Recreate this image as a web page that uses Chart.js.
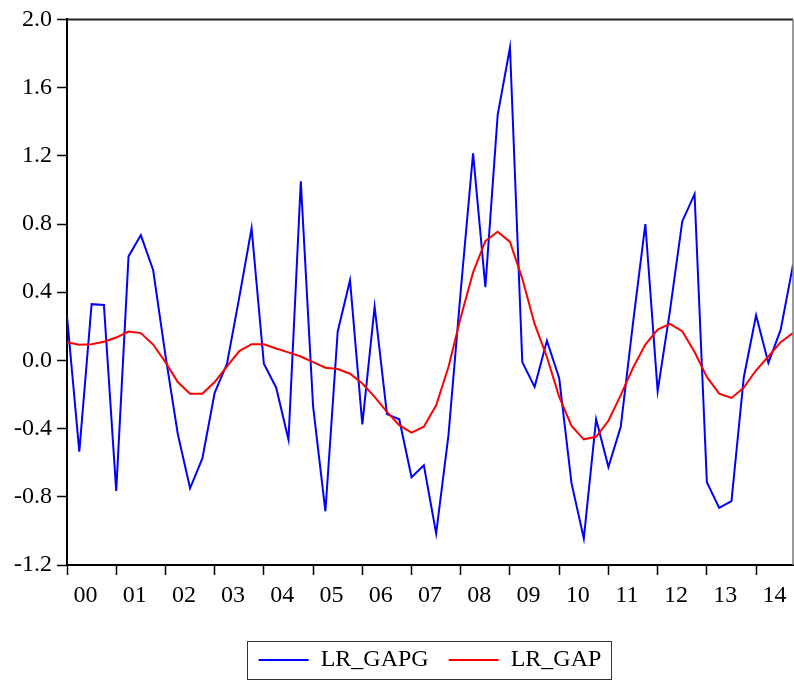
<!DOCTYPE html>
<html>
<head>
<meta charset="utf-8">
<script src="https://cdn.jsdelivr.net/npm/chart.js@4.4.0/dist/chart.umd.min.js"></script>
<style>
  html, body { margin: 0; padding: 0; background: #ffffff; }
  #wrap { width: 794px; height: 682px; }
</style>
</head>
<body>
<div id="wrap"><canvas id="c" width="794" height="682"></canvas></div>
<script>
// ---- data (quarterly, 2000Q1 .. 2014Q4) ----
const yearLabels = ['00','01','02','03','04','05','06','07','08','09','10','11','12','13','14'];
const yTicks = [-1.2, -0.8, -0.4, 0.0, 0.4, 0.8, 1.2, 1.6, 2.0];
const seriesNames = ['LR_GAPG', 'LR_GAP'];
const lrGapg = [0.26, -0.535, 0.33, 0.325, -0.765, 0.61, 0.735, 0.53, 0.03, -0.43,
                -0.75, -0.575, -0.19, -0.02, 0.37, 0.775, -0.02, -0.16, -0.465, 1.05,
                -0.27, -0.885, 0.17, 0.47, -0.375, 0.315, -0.315, -0.345, -0.685, -0.615,
                -1.015, -0.44, 0.41, 1.215, 0.43, 1.44, 1.835, -0.01, -0.155, 0.115,
                -0.105, -0.72, -1.045, -0.345, -0.625, -0.39, 0.22, 0.80, -0.18, 0.29,
                0.815, 0.975, -0.715, -0.865, -0.825, -0.1, 0.265, -0.015, 0.18, 0.56];
const lrGap = [0.107, 0.092, 0.095, 0.109, 0.134, 0.169, 0.16, 0.093, -0.01, -0.127,
               -0.195, -0.195, -0.127, -0.035, 0.055, 0.095, 0.095, 0.07, 0.047, 0.023,
               -0.01, -0.043, -0.051, -0.078, -0.136, -0.214, -0.302, -0.38, -0.424, -0.389,
               -0.263, -0.039, 0.253, 0.516, 0.70, 0.755, 0.695, 0.48, 0.214, 0.02,
               -0.214, -0.384, -0.463, -0.448, -0.354, -0.204, -0.043, 0.093, 0.181, 0.214,
               0.171, 0.049, -0.097, -0.195, -0.22, -0.16, -0.058, 0.023, 0.107, 0.16];

const QPY = 4; // quarters per year
const FONT = "'Liberation Serif', 'Times New Roman', serif";

const toPoints = arr => arr.map((v, i) => ({ x: i, y: v }));

// Frame: top and right border of the plot area
const framePlugin = {
  id: 'frame',
  afterDatasetsDraw(chart) {
    const { ctx, chartArea: a } = chart;
    ctx.save();
    ctx.strokeStyle = '#222222';
    ctx.lineWidth = 2;
    ctx.beginPath();
    ctx.moveTo(a.left, a.top);
    ctx.lineTo(a.right, a.top);
    ctx.stroke();
    ctx.strokeStyle = '#777777';
    ctx.lineWidth = 1.5;
    ctx.beginPath();
    ctx.moveTo(a.right, a.top);
    ctx.lineTo(a.right, a.bottom);
    ctx.stroke();
    ctx.restore();
  }
};

// Box around legend items
const legendBoxPlugin = {
  id: 'legendBox',
  afterDraw(chart) {
    const lg = chart.legend;
    if (!lg || !lg.legendHitBoxes || !lg.legendHitBoxes.length) return;
    const hb = lg.legendHitBoxes;
    const first = hb[0], last = hb[hb.length - 1];
    const x0 = first.left - 12;
    const x1 = last.left + last.width + 9;
    const y0 = first.top - 7;
    const y1 = first.top + first.height + 7;
    const ctx = chart.ctx;
    ctx.save();
    ctx.strokeStyle = '#333333';
    ctx.lineWidth = 1;
    ctx.strokeRect(Math.round(x0) + 0.5, Math.round(y0) + 0.5, Math.round(x1 - x0), Math.round(y1 - y0));
    ctx.restore();
  }
};

const xTickValues = [];
yearLabels.forEach((_, k) => { xTickValues.push(k * QPY); xTickValues.push(k * QPY + 1.5); });

new Chart(document.getElementById('c'), {
  type: 'line',
  data: {
    datasets: [
      { label: seriesNames[0], data: toPoints(lrGapg), borderColor: '#0000FF', backgroundColor: '#0000FF',
        borderWidth: 2, pointRadius: 0, tension: 0, order: 2 },
      { label: seriesNames[1], data: toPoints(lrGap), borderColor: '#FF0000', backgroundColor: '#FF0000',
        borderWidth: 2, pointRadius: 0, tension: 0, order: 1 }
    ]
  },
  options: {
    responsive: false,
    animation: false,
    layout: { padding: { top: 17, right: 1, left: 0, bottom: 0 } },
    plugins: {
      tooltip: { enabled: false },
      legend: {
        position: 'bottom',
        fullSize: false,
        labels: {
          usePointStyle: true,
          pointStyle: 'line',
          pointStyleWidth: 50,
          padding: 20,
          color: '#000000',
          font: { family: FONT, size: 24 },
          sort: (a, b) => a.datasetIndex - b.datasetIndex
        }
      }
    },
    scales: {
      x: {
        type: 'linear',
        min: 0,
        max: lrGapg.length - 1,
        afterBuildTicks: s => { s.ticks = xTickValues.map(v => ({ value: v })); },
        afterFit: s => { s.height = 63; },
        border: { display: true, color: '#000000', width: 2 },
        grid: {
          drawOnChartArea: false,
          drawTicks: true,
          tickLength: 10,
          tickWidth: 1.5,
          tickColor: c => (c.tick && c.tick.value % QPY === 0) ? '#000000' : 'rgba(0,0,0,0)'
        },
        ticks: {
          autoSkip: false,
          maxRotation: 0,
          padding: 6,
          color: '#000000',
          font: { family: FONT, size: 24 },
          callback: v => (v % QPY === 0) ? '' : yearLabels[Math.floor(v / QPY)]
        }
      },
      y: {
        min: -1.2,
        max: 2.0,
        afterBuildTicks: s => { s.ticks = yTicks.map(v => ({ value: v })); },
        afterFit: s => { s.width = 67; },
        border: { display: true, color: '#000000', width: 2 },
        grid: {
          drawOnChartArea: false,
          drawTicks: true,
          tickLength: 10,
          tickWidth: 1.5,
          tickColor: '#000000'
        },
        ticks: {
          padding: 5,
          color: '#000000',
          font: { family: FONT, size: 24 },
          callback: v => (Math.abs(v) < 1e-9 ? 0 : v).toFixed(1)
        }
      }
    }
  },
  plugins: [framePlugin, legendBoxPlugin]
});
</script>
</body>
</html>
